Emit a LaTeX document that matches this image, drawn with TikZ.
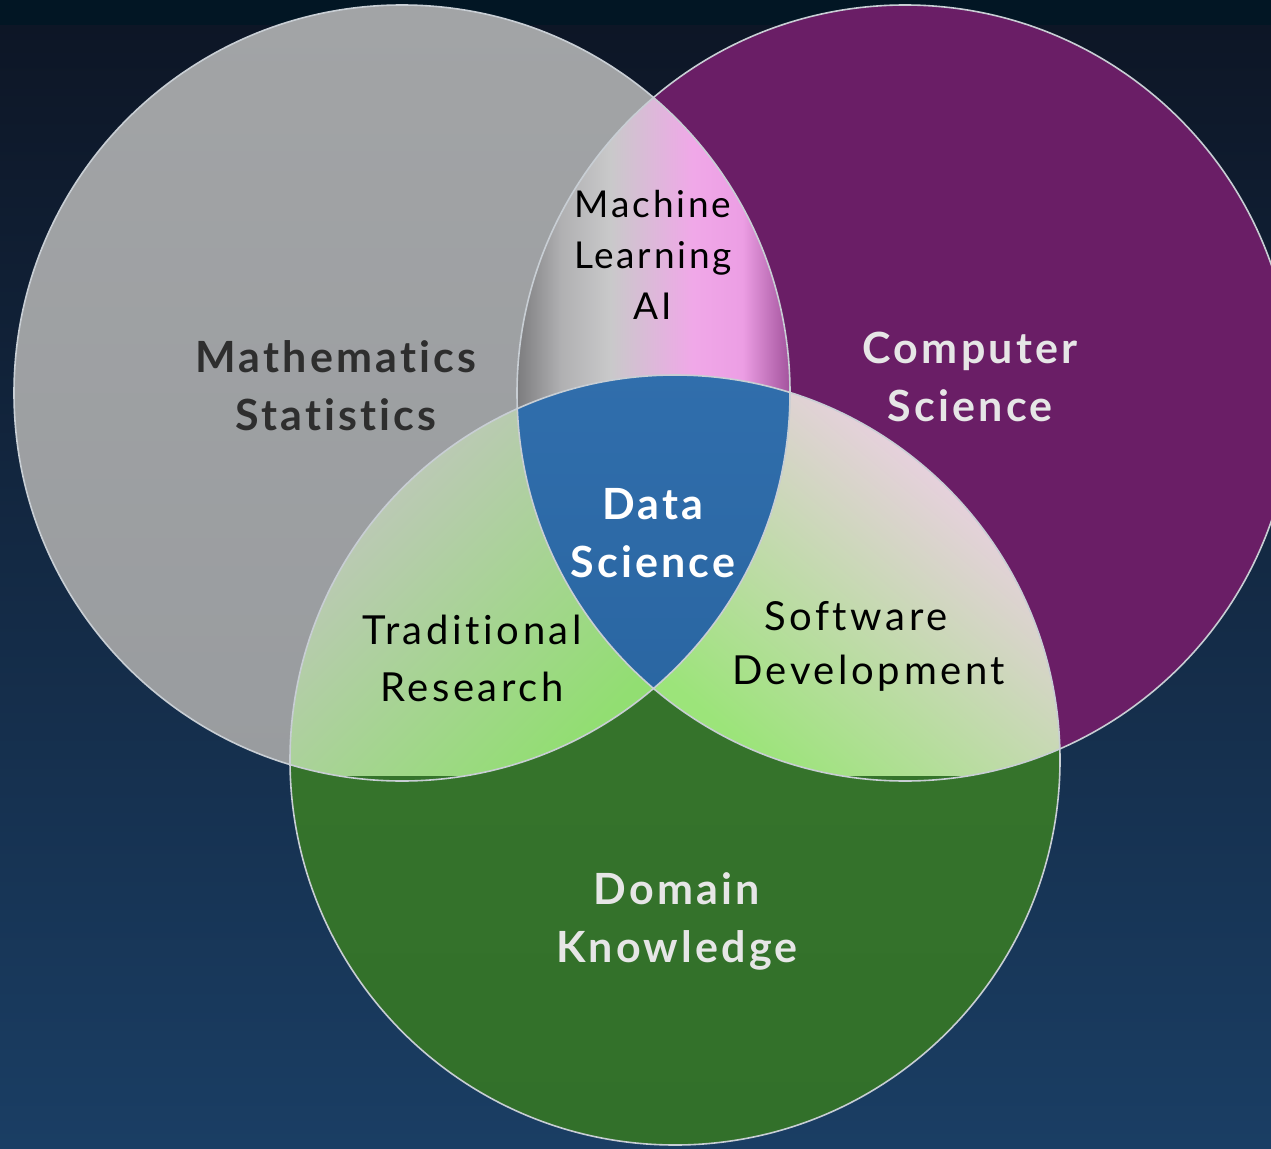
\documentclass[tikz,border=0pt]{standalone}
\usepackage{fontspec}
\setmainfont{Lato}
\newfontfamily\labelfont[LetterSpace=7.5, Ligatures=NoCommon]{Lato}
\newfontfamily\widefont[LetterSpace=9, Ligatures=NoCommon]{Lato}
\definecolor{bgband}{HTML}{021624}
\definecolor{bgtop}{HTML}{0D1626}
\definecolor{bgbot}{HTML}{1A3E64}
\definecolor{graycol}{HTML}{999C9F}
\definecolor{graytop}{HTML}{A2A4A6}
\definecolor{purplecol}{HTML}{6A1E66}
\definecolor{greencol}{HTML}{38762C}
\definecolor{greenbot}{HTML}{32702A}
\definecolor{bluecol}{HTML}{2A66A2}
\definecolor{bluetop}{HTML}{306EAC}
\definecolor{rimcol}{HTML}{C8CED4}
\definecolor{mlA}{HTML}{7C7C7E}
\definecolor{mlB}{HTML}{B0B0B2}
\definecolor{mlC}{HTML}{C9C9CA}
\definecolor{mlD}{HTML}{F0A8E8}
\definecolor{mlE}{HTML}{EC9EE4}
\definecolor{mlF}{HTML}{A0509A}
\definecolor{trgray}{HTML}{C6C4C6}
\definecolor{trmid}{HTML}{BFCCB8}
\definecolor{trgreen}{HTML}{92DE72}
\definecolor{sdpink}{HTML}{F8CCF4}
\definecolor{sdmid}{HTML}{E2E6DA}
\definecolor{sdgreen}{HTML}{9CE47A}
\definecolor{mathtext}{HTML}{2E2E2E}
\definecolor{lighttext}{HTML}{E6E6E6}
\pgfdeclarehorizontalshading{mlshade}{100bp}{color(0bp)=(mlA); color(25bp)=(mlA); color(33bp)=(mlB); color(42bp)=(mlC); color(57bp)=(mlD); color(66bp)=(mlE); color(75bp)=(mlF); color(100bp)=(mlF)}
\tikzset{
  rim/.style={draw=rimcol, line width=1.6pt},
  bigbold/.style={font=\labelfont\fontsize{43}{58}\selectfont\bfseries, align=center, inner sep=0pt},
  smalltext/.style={font=\labelfont\fontsize{37}{51}\selectfont, align=center, inner sep=0pt, text=black},
  midtext/.style={font=\widefont\fontsize{40}{57}\selectfont, align=center, inner sep=0pt, text=black},
}
\begin{document}
\begin{tikzpicture}[x=1pt,y=-1pt]
\useasboundingbox (0,0) rectangle (1271,1148);
\clip (0,0) rectangle (1271,1148);
\shade[top color=bgtop, bottom color=bgbot] (0,25) rectangle (1271,1148);
\fill[bgband] (0,0) rectangle (1271,25);
\coordinate (cG) at (402,393);
\coordinate (cP) at (905,393);
\coordinate (cD) at (675,760);
% base circles
\shade[top color=graytop, bottom color=graycol] (cG) circle[radius=388pt];
\fill[purplecol] (cP) circle[radius=388pt];
\shade[top color=greencol, bottom color=greenbot] (cD) circle[radius=385pt];
% gray & purple lens
\begin{scope}
  \clip (cG) circle[radius=388pt];
  \clip (cP) circle[radius=388pt];
  \shade[shading=mlshade] (517,90) rectangle (792,700);
\end{scope}
% gray & green lens
\begin{scope}
  \clip (cG) circle[radius=388pt];
  \clip (cD) circle[radius=385pt];
  \shade[top color=trgray, middle color=trmid, bottom color=trgreen, shading angle=45] (288,370) rectangle (660,775);
\end{scope}
% purple & green lens
\begin{scope}
  \clip (cP) circle[radius=388pt];
  \clip (cD) circle[radius=385pt];
  \shade[top color=sdpink, middle color=sdmid, bottom color=sdgreen, shading angle=-40] (650,370) rectangle (1065,775);
\end{scope}
% triple region
\begin{scope}
  \clip (cG) circle[radius=388pt];
  \clip (cP) circle[radius=388pt];
  \clip (cD) circle[radius=385pt];
  \shade[top color=bluetop, bottom color=bluecol] (510,370) rectangle (800,700);
\end{scope}
% rims
\draw[rim] (cG) circle[radius=388pt];
\draw[rim] (cP) circle[radius=388pt];
\draw[rim] (cD) circle[radius=385pt];
% labels
\node[bigbold, text=mathtext] (math) at (336,386) {Mathematics\\Statistics};
\node[bigbold, text=lighttext] (cs) at (970,377) {Computer\\Science};
\node[bigbold, text=lighttext] (dk) at (677,921) {Domain\\Knowledge};
\node[bigbold, text=white] (ds) at (653,533) {Data\\Science};
\node[smalltext] (ml) at (653,255) {Machine\\Learning\\AI};
\node[midtext] (tr) at (472,658) {Traditional\\Research};
\node[midtext, anchor=west] (sw) at (764,616) {Software};
\node[midtext, anchor=west] (dev) at (732,673) {Development};
\end{tikzpicture}
\end{document}
